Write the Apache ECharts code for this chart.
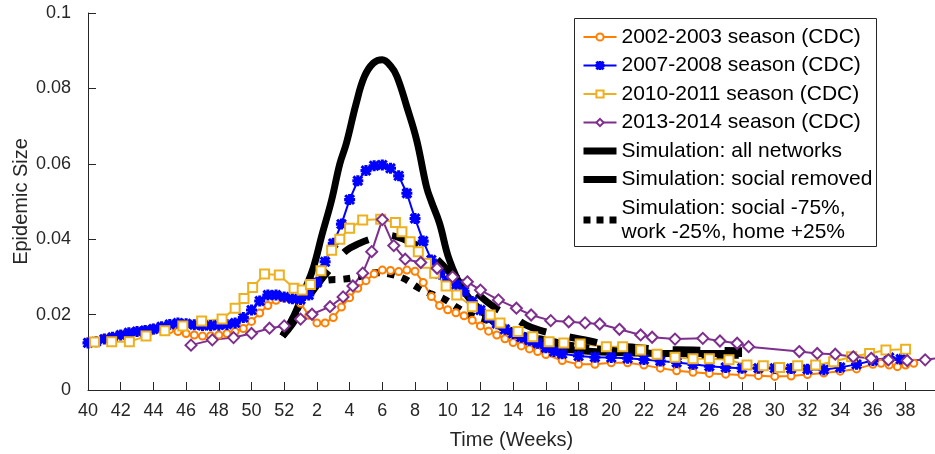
<!DOCTYPE html>
<html>
<head>
<meta charset="utf-8">
<script src="https://cdn.jsdelivr.net/npm/echarts@6/dist/echarts.min.js"></script>
<style>
  html, body { margin: 0; padding: 0; background: #fff; }
  #chart { width: 935px; height: 454px; }
</style>
</head>
<body>
<div id="chart"></div>
<script>
// x values are week positions counted from week 40 (0 = week 40, 12 = week 52, 13 = week 1)
const seasonNames = [
  '2002-2003 season (CDC)',
  '2007-2008 season (CDC)',
  '2010-2011 season (CDC)',
  '2013-2014 season (CDC)'
]
const simNames = [
  'Simulation: all networks',
  'Simulation: social removed',
  'Simulation: social -75%,\nwork -25%, home +25%'
]

const season0203 = [
  [0, 0.0128], [0.5, 0.013], [1, 0.0137], [1.5, 0.0141], [2, 0.0147], [2.5, 0.0152], [3, 0.0155],
  [3.5, 0.016], [4, 0.0164], [4.5, 0.0163], [5, 0.016], [5.5, 0.0155], [6, 0.015], [6.5, 0.0146],
  [7, 0.0143], [7.5, 0.0144], [8, 0.0146], [8.5, 0.015], [9, 0.0155], [9.5, 0.0163], [10, 0.0182],
  [10.5, 0.0204], [11, 0.0224], [11.5, 0.0238], [12, 0.0244], [12.5, 0.0241], [13, 0.023],
  [13.5, 0.0198], [14, 0.0178], [14.5, 0.0178], [15, 0.0192], [15.5, 0.022], [16, 0.0245],
  [16.5, 0.027], [17, 0.029], [17.5, 0.0308], [18, 0.0318], [18.5, 0.0317], [19, 0.0314],
  [19.5, 0.0318], [20, 0.0315], [20.5, 0.0285], [21, 0.0248], [21.5, 0.0224], [22, 0.0213],
  [22.5, 0.0205], [23, 0.0197], [23.5, 0.0185], [24, 0.017], [24.5, 0.0156], [25, 0.0146],
  [25.5, 0.0136], [26, 0.0126], [26.5, 0.0117], [27, 0.0109], [27.5, 0.0102], [28, 0.0094],
  [29, 0.0078], [30, 0.0068], [31, 0.0068], [32, 0.0072], [33, 0.0072], [34, 0.0066], [35, 0.0058],
  [36, 0.0051], [37, 0.0047], [38, 0.0044], [39, 0.0042], [40, 0.004], [41, 0.0038], [42, 0.0036],
  [43, 0.0037], [44, 0.0041], [45, 0.0045], [46, 0.005], [47, 0.0056], [48, 0.0068], [48.5, 0.0071],
  [49, 0.0066], [49.5, 0.0062], [50, 0.0066], [50.5, 0.0071]
]
const season0708 = [
  [0, 0.0125], [0.5, 0.0128], [1, 0.0135], [1.5, 0.014], [2, 0.0146], [2.5, 0.0152], [3, 0.0155],
  [3.5, 0.0158], [4, 0.0162], [4.5, 0.0168], [5, 0.0174], [5.5, 0.0178], [6, 0.0176], [6.5, 0.0173],
  [7, 0.0171], [7.5, 0.0171], [8, 0.0172], [8.5, 0.0174], [9, 0.0178], [9.5, 0.0192], [10, 0.0212],
  [10.5, 0.0236], [11, 0.0252], [11.5, 0.0252], [12, 0.0247], [12.5, 0.0242], [13, 0.024],
  [13.5, 0.0252], [14, 0.0285], [14.5, 0.034], [15, 0.0389], [15.5, 0.044], [16, 0.0505],
  [16.5, 0.0555], [17, 0.0582], [17.5, 0.0595], [18, 0.0597], [18.5, 0.0588], [19, 0.0568],
  [19.5, 0.0522], [20, 0.0455], [20.5, 0.0395], [21, 0.0345], [21.5, 0.0308], [22, 0.0292],
  [22.5, 0.028], [23, 0.0262], [23.5, 0.0235], [24, 0.0212], [24.5, 0.0192], [25, 0.0176],
  [25.5, 0.0161], [26, 0.015], [26.5, 0.014], [27, 0.0132], [27.5, 0.0124], [28, 0.0112],
  [28.5, 0.0102], [29, 0.0096], [30, 0.009], [31, 0.0087], [32, 0.0086], [33, 0.0084], [34, 0.0081],
  [35, 0.0077], [36, 0.0073], [37, 0.0068], [38, 0.0063], [39, 0.006], [40, 0.0058], [41, 0.0058],
  [42, 0.0058], [43, 0.0057], [44, 0.0055], [45, 0.0054], [46, 0.006], [47, 0.0068], [48, 0.0078],
  [49, 0.0086], [49.7, 0.0082]
]
const season1011 = [
  [0.4, 0.0127], [1.45, 0.0128], [2.53, 0.0128], [3.55, 0.0143], [4.7, 0.0157], [5.8, 0.017],
  [6.95, 0.0183], [8.2, 0.0188], [9.0, 0.0217], [9.54, 0.0243], [10.07, 0.0272], [10.8, 0.0308],
  [11.7, 0.0305], [12.6, 0.027], [13.1, 0.0265], [13.6, 0.028], [14.25, 0.0316], [14.9, 0.0371],
  [15.4, 0.040], [16.0, 0.0429], [16.8, 0.0451], [17.9, 0.0453], [18.8, 0.0444], [19.2, 0.042],
  [19.7, 0.0393], [20.2, 0.0367], [20.7, 0.0336], [21.2, 0.031], [21.9, 0.0276], [22.55, 0.0252],
  [23.5, 0.0221], [24.6, 0.0199], [25.2, 0.0178], [26.3, 0.0155], [27.2, 0.0141], [28.2, 0.0128],
  [29.1, 0.0125], [30.1, 0.0122], [31.7, 0.0115], [32.7, 0.0115], [33.8, 0.0106], [34.8, 0.0095],
  [35.9, 0.0087], [37.0, 0.0083], [38.0, 0.0083], [39.2, 0.008], [40.3, 0.0066], [41.3, 0.0064],
  [42.3, 0.006], [43.4, 0.0064], [44.5, 0.0066], [45.6, 0.0075], [46.7, 0.0088], [47.8, 0.0097],
  [48.8, 0.0106], [50.0, 0.0108]
]
const season1314 = [
  [6.3, 0.0119], [7.6, 0.0133], [8.9, 0.0139], [10.0, 0.015], [11.1, 0.0164], [12.0, 0.017],
  [13.0, 0.0188], [13.7, 0.0201], [14.8, 0.0221], [15.6, 0.0247], [16.2, 0.0276], [16.8, 0.031],
  [17.35, 0.0367], [18.0, 0.0452], [18.7, 0.0383], [19.4, 0.0347], [20.35, 0.0338], [21.35, 0.0323],
  [22.3, 0.030], [23.2, 0.0287], [24.0, 0.0265], [25.1, 0.0239], [26.2, 0.0217], [27.1, 0.0199],
  [28.3, 0.0184], [29.4, 0.0181], [30.4, 0.0178], [31.3, 0.0175], [32.5, 0.0161], [33.8, 0.0146],
  [34.5, 0.014], [35.9, 0.0135], [37.6, 0.0137], [38.65, 0.013], [39.7, 0.0124], [40.4, 0.0115],
  [43.5, 0.0102], [44.6, 0.0097], [45.7, 0.0095], [46.8, 0.0088], [47.9, 0.0084], [48.95, 0.008],
  [50.1, 0.0078], [51.2, 0.008], [52.5, 0.0088]
]

const simAll = [
  [11.9, 0.0143], [12.4, 0.018], [12.75, 0.0212], [13.3, 0.027], [13.8, 0.0327], [14.3, 0.041],
  [14.9, 0.0504], [15.4, 0.060], [15.8, 0.0654], [16.4, 0.076], [16.9, 0.0831], [17.45, 0.0867],
  [18.0, 0.0876], [18.5, 0.086], [18.9, 0.0831], [19.5, 0.0751], [20.1, 0.0663], [20.7, 0.0539],
  [21.0, 0.050], [21.5, 0.0442], [22.1, 0.0345], [22.95, 0.0265], [24.0, 0.0212], [25.2, 0.0168],
  [26.8, 0.0133], [28.0, 0.0115], [30, 0.0105], [32, 0.01], [34, 0.0098], [36, 0.0097],
  [38, 0.0097], [40, 0.0097]
]
const simSocialRemoved = [
  [11.9, 0.0143], [12.5, 0.0175], [13.2, 0.0225], [13.7, 0.026], [14.4, 0.030], [15.1, 0.0336],
  [15.8, 0.037], [16.6, 0.0389], [17.4, 0.0402], [18.2, 0.0411], [19.0, 0.0405], [19.8, 0.039],
  [20.3, 0.038], [21.0, 0.036], [21.5, 0.034], [22.2, 0.031], [23.0, 0.0283], [23.7, 0.026],
  [24.4, 0.0234], [25.2, 0.021], [26.0, 0.0194], [26.8, 0.0172], [27.6, 0.0159], [28.6, 0.0148],
  [29.5, 0.014], [30.7, 0.013], [31.9, 0.0119], [33.5, 0.0113], [35, 0.0108], [37, 0.0106],
  [40, 0.0104]
]
const simMixed = [
  [11.9, 0.0143], [12.4, 0.018], [13.0, 0.023], [13.6, 0.0265], [14.2, 0.0285], [14.7, 0.0292],
  [15.6, 0.0294], [16.5, 0.030], [17.55, 0.0311], [18.4, 0.0308], [19.3, 0.0296], [20.1, 0.0274],
  [20.9, 0.0256], [21.7, 0.0243], [22.5, 0.0221], [23.4, 0.0199], [25.0, 0.0177], [26.0, 0.0155],
  [27.0, 0.0141], [28.0, 0.0133], [28.8, 0.0125], [30.0, 0.0115], [32, 0.0105], [34, 0.0098],
  [36, 0.0095], [38, 0.0093], [40, 0.0092]
]

const yTicks = [0, 0.02, 0.04, 0.06, 0.08, 0.1]

const starPath = 'path://M4.4,0h1.2v10h-1.2z M0,4.4h10v1.2h-10z M1.3,0.5l8.2,8.2-0.8,0.8-8.2-8.2z M8.7,0.5l0.8,0.8-8.2,8.2-0.8-0.8z'

const axisColor = '#262626'
const font = 'Liberation Sans, Arial, sans-serif'

// position -> week label (40..52, then 1..)
function weekLabel(v) {
  const i = Math.round(v)
  return i <= 12 ? String(40 + i) : String(i - 12)
}

function cdcSeries(name, data, color, symbol, size) {
  return {
    name: name,
    type: 'line',
    data: data,
    symbol: symbol,
    symbolSize: size,
    showAllSymbol: true,
    color: color,
    lineStyle: { color: color, width: 2 },
    itemStyle: { color: color, borderColor: color, borderWidth: 2 },
    emphasis: { disabled: true },
    animation: false
  }
}

function simSeries(name, data, type) {
  return {
    name: name,
    type: 'line',
    data: data,
    symbol: 'none',
    smooth: 0.4,
    color: '#000',
    lineStyle: { color: '#000', width: 7, type: type, cap: 'butt' },
    emphasis: { disabled: true },
    animation: false
  }
}

const chart = echarts.init(document.getElementById('chart'))

chart.setOption({
  animation: false,
  grid: { left: 88, right: 0, top: 13, bottom: 64, outerBoundsMode: 'none' },
  // legend frame
  graphic: [{
    type: 'rect',
    left: 574,
    top: 18,
    z: 100,
    shape: { width: 302, height: 228 },
    style: { fill: '#fff', stroke: '#262626', lineWidth: 1 }
  }],
  legend: {
    orient: 'vertical',
    left: 574,
    top: 19,
    z: 101,
    padding: [6, 4, 4, 6],
    itemWidth: 33,
    itemHeight: 9,
    itemGap: 4.5,
    textStyle: { fontFamily: font, fontSize: 21, color: '#000', lineHeight: 24 },
    data: [
      { name: seasonNames[0] },
      { name: seasonNames[1] },
      { name: seasonNames[2] },
      { name: seasonNames[3] },
      { name: simNames[0], itemStyle: { opacity: 0 }, lineStyle: { width: 7, type: 'solid' } },
      { name: simNames[1], itemStyle: { opacity: 0 }, lineStyle: { width: 7, type: 'solid' } },
      { name: simNames[2], itemStyle: { opacity: 0 }, lineStyle: { width: 7, type: [7, 6] } }
    ]
  },
  xAxis: {
    type: 'value',
    min: 0,
    max: 51.8,
    interval: 2,
    name: 'Time (Weeks)',
    nameLocation: 'middle',
    nameGap: 40,
    nameMoveOverlap: false,
    nameTextStyle: { fontFamily: font, fontSize: 20, color: axisColor },
    axisLine: { show: true, lineStyle: { color: axisColor, width: 1 } },
    axisTick: { show: true, inside: true, length: 8, lineStyle: { color: axisColor } },
    axisLabel: {
      fontFamily: font, fontSize: 18, color: axisColor, margin: 12,
      showMaxLabel: false,
      formatter: weekLabel
    },
    splitLine: { show: false }
  },
  yAxis: {
    type: 'value',
    min: yTicks[0],
    max: yTicks[yTicks.length - 1],
    interval: 0.02,
    name: 'Epidemic Size',
    nameLocation: 'middle',
    nameGap: 57,
    nameMoveOverlap: false,
    nameTextStyle: { fontFamily: font, fontSize: 20, color: axisColor },
    axisLine: { show: true, lineStyle: { color: axisColor, width: 1 } },
    axisTick: { show: true, inside: true, length: 8, lineStyle: { color: axisColor } },
    axisLabel: { fontFamily: font, fontSize: 18, color: axisColor, margin: 17 },
    splitLine: { show: false }
  },
  series: [
    cdcSeries(seasonNames[0], season0203, '#FF7F00', 'emptyCircle', 7),
    cdcSeries(seasonNames[1], season0708, '#0000FF', starPath, 9),
    cdcSeries(seasonNames[2], season1011, '#EDB120', 'emptyRect', 9),
    cdcSeries(seasonNames[3], season1314, '#7E2F8E', 'emptyDiamond', 11),
    simSeries(simNames[0], simAll, 'solid'),
    simSeries(simNames[1], simSocialRemoved, [28, 24]),
    simSeries(simNames[2], simMixed, [7, 8])
  ]
})
</script>
</body>
</html>
